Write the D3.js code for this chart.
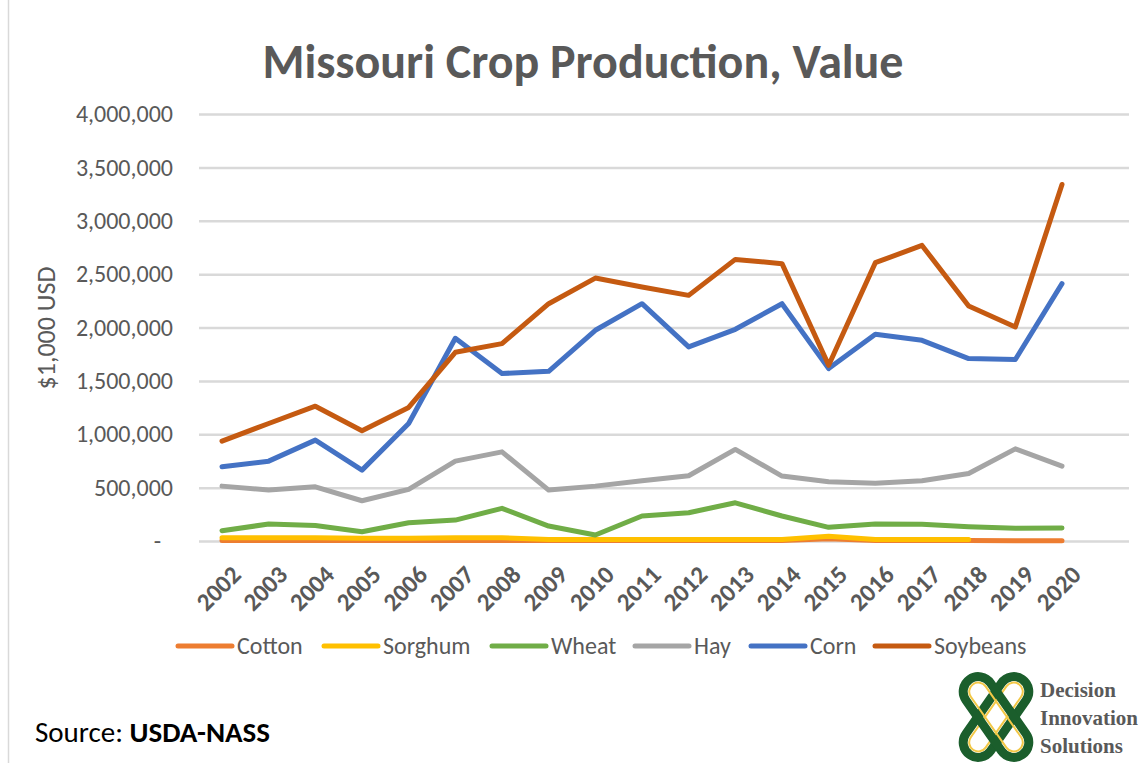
<!DOCTYPE html>
<html>
<head>
<meta charset="utf-8">
<script src="https://cdn.jsdelivr.net/npm/d3@7"></script>
<style>
  body { margin: 0; background: #fff; }
  svg { display: block; }
  text { font-family: Carlito, "Open Sans", sans-serif; fill: #595959; }
</style>
</head>
<body>
<svg id="chart" width="1142" height="763"></svg>
<script>
// Values in $1,000 USD
var years = ['2002', '2003', '2004', '2005', '2006', '2007', '2008', '2009', '2010', '2011',
             '2012', '2013', '2014', '2015', '2016', '2017', '2018', '2019', '2020'];

var cotton   = [5000, 5000, 5000, 5000, 5000, 5000, 5000, 5000, 5000, 5000,
                5000, 5000, 5000, 20000, 5000, 5000, 5000, 3000, 3000];
var sorghum  = [30000, 30000, 30000, 25000, 25000, 30000, 30000, 15000, 15000, 15000,
                15000, 15000, 15000, 45000, 15000, 15000, 15000, null, null];
var wheat    = [96000, 159000, 145000, 87000, 171000, 196000, 306000, 140000, 56000, 234000,
                265000, 358000, 234000, 128000, 159000, 156000, 134000, 119000, 122000];
var hay      = [514000, 477000, 508000, 377000, 484000, 748000, 835000, 477000, 514000, 564000,
                611000, 858000, 608000, 555000, 540000, 564000, 633000, 863000, 702000];
var corn     = [695000, 748000, 945000, 664000, 1101000, 1899000, 1569000, 1590000, 1974000, 2223000,
                1818000, 1983000, 2223000, 1615000, 1936000, 1880000, 1709000, 1700000, 2411000];
var soybeans = [935000, 1101000, 1263000, 1032000, 1251000, 1768000, 1849000, 2223000, 2463000, 2379000,
                2301000, 2638000, 2598000, 1646000, 2607000, 2769000, 2201000, 2005000, 3340000];

var seriesNames  = ['Cotton', 'Sorghum', 'Wheat', 'Hay', 'Corn', 'Soybeans'];
var seriesValues = [cotton, sorghum, wheat, hay, corn, soybeans];
var seriesColors = ['#ed7d31', '#ffc000', '#70ad47', '#a5a5a5', '#4472c4', '#c55a11'];
var yTicks = [0, 500000, 1000000, 1500000, 2000000, 2500000, 3000000, 3500000, 4000000];

var svg = d3.select('#chart');

// chart frame, left edge only visible
svg.append('line')
    .attr('x1', 8.5).attr('x2', 8.5)
    .attr('y1', 0).attr('y2', 763)
    .attr('stroke', '#d9d9d9')
    .attr('stroke-width', 1.5);

var plotLeft = 199, plotRight = 1129;

var x = d3.scalePoint()
    .domain(years)
    .range([222, 1062]);

var y = d3.scaleLinear()
    .domain([0, 4000000])
    .range([541, 114]);

// Title
svg.append('text')
    .attr('x', 583)
    .attr('y', 78)
    .attr('text-anchor', 'middle')
    .style('font-size', '48px')
    .style('font-weight', 700)
    .text('Missouri Crop Production, Value');

// Y gridlines + labels
var yAxis = d3.axisLeft(y)
    .tickValues(yTicks)
    .tickSize(-(plotRight - plotLeft))
    .tickPadding(26)
    .tickFormat(function (d) { return d === 0 ? '-' : d3.format(',')(d); });

var yg = svg.append('g')
    .attr('transform', 'translate(' + plotLeft + ',0)')
    .call(yAxis);
yg.select('.domain').remove();
yg.selectAll('.tick line')
    .attr('stroke', '#d9d9d9')
    .attr('stroke-width', 2.5);
yg.selectAll('.tick text')
    .style('font-size', '24px')
    .style('font-family', 'Carlito, "Open Sans", sans-serif')
    .attr('fill', '#595959')
    .attr('dx', function (d) { return d === 0 ? -12 : 0; });

// Y title
svg.append('text')
    .attr('transform', 'translate(55,328) rotate(-90)')
    .attr('text-anchor', 'middle')
    .style('font-size', '26px')
    .text('$1,000 USD');

// X labels, rotated
svg.append('g')
    .selectAll('text')
    .data(years)
    .enter()
    .append('text')
    .attr('transform', function (d) { return 'translate(' + (x(d) + 8) + ',564) rotate(-45)'; })
    .attr('text-anchor', 'end')
    .attr('dy', '0.7em')
    .style('font-size', '25px')
    .style('font-weight', 700)
    .text(function (d) { return d; });

// Lines
var line = d3.line()
    .defined(function (d) { return d != null; })
    .x(function (d, i) { return x(years[i]); })
    .y(function (d) { return y(d); });

svg.append('g')
    .selectAll('path')
    .data(seriesValues)
    .enter()
    .append('path')
    .attr('d', line)
    .attr('fill', 'none')
    .attr('stroke', function (d, i) { return seriesColors[i]; })
    .attr('stroke-width', 5)
    .attr('stroke-linejoin', 'round')
    .attr('stroke-linecap', 'round');

// Legend
var legendX = [178, 324, 492, 635, 751, 875];
var lg = svg.append('g')
    .selectAll('g')
    .data(seriesNames)
    .enter()
    .append('g')
    .attr('transform', function (d, i) { return 'translate(' + legendX[i] + ',646)'; });
lg.append('line')
    .attr('x1', 0).attr('x2', 54)
    .attr('stroke', function (d, i) { return seriesColors[i]; })
    .attr('stroke-width', 5)
    .attr('stroke-linecap', 'round');
lg.append('text')
    .attr('x', 59)
    .attr('dy', '0.35em')
    .style('font-size', '24px')
    .text(function (d) { return d; });

// Source note
var src = svg.append('text')
    .attr('x', 35)
    .attr('y', 742)
    .style('font-size', '29px')
    .attr('fill', '#000');
src.append('tspan').text('Source: ').attr('fill', '#000');
src.append('tspan').text('USDA-NASS').style('font-weight', 700).attr('fill', '#000');

// Logo: knot + company name
var logo = svg.append('g').attr('transform', 'translate(996,717)');
[-55, 55].forEach(function (a) {
    var k = logo.append('g').attr('transform', 'rotate(' + a + ')');
    k.append('rect')
        .attr('x', -46).attr('y', -15).attr('width', 92).attr('height', 30).attr('rx', 15)
        .attr('fill', 'none').attr('stroke', '#1b5e2c').attr('stroke-width', 9);
    k.append('rect')
        .attr('x', -40).attr('y', -9).attr('width', 80).attr('height', 18).attr('rx', 9)
        .attr('fill', 'none').attr('stroke', '#f3c846').attr('stroke-width', 2);
});
var names = ['Decision', 'Innovation', 'Solutions'];
svg.append('g')
    .selectAll('text')
    .data(names)
    .enter()
    .append('text')
    .attr('x', 1040)
    .attr('y', function (d, i) { return 697 + i * 28; })
    .style('font-family', '"Liberation Serif", "DejaVu Serif", serif')
    .style('font-size', '21px')
    .style('font-weight', 700)
    .attr('fill', '#1b5e2c')
    .text(function (d) { return d; });
</script>
</body>
</html>
